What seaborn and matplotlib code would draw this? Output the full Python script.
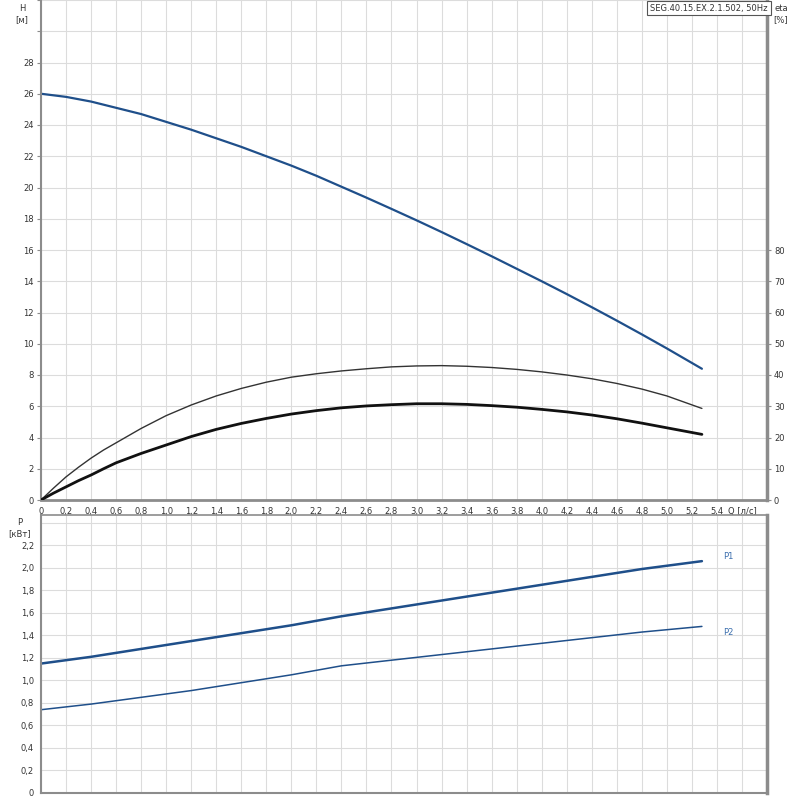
import numpy as np
import pandas as pd
import matplotlib
matplotlib.use("Agg")
import matplotlib.pyplot as plt
import seaborn as sns

# values
q = [0, 0.2, 0.4, 0.6, 0.8, 1.0, 1.2, 1.4, 1.6, 1.8, 2.0, 2.2, 2.4, 2.6,
     2.8, 3.0, 3.2, 3.4, 3.6, 3.8, 4.0, 4.2, 4.4, 4.6, 4.8, 5.0, 5.28]
head = [26.0, 25.8, 25.5, 25.1, 24.7, 24.2, 23.7, 23.15, 22.6, 22.0, 21.4, 20.75, 20.05, 19.35,
        18.63, 17.9, 17.15, 16.38, 15.6, 14.8, 14.0, 13.18, 12.34, 11.48, 10.6, 9.7, 8.4]

q_eta = [0, 0.1, 0.2, 0.3, 0.4, 0.5, 0.6, 0.8, 1.0, 1.2, 1.4, 1.6, 1.8, 2.0, 2.2, 2.4, 2.6,
         2.8, 3.0, 3.2, 3.4, 3.6, 3.8, 4.0, 4.2, 4.4, 4.6, 4.8, 5.0, 5.28]
eta_pump = [0, 3.8, 7.4, 10.5, 13.4, 16.0, 18.3, 22.9, 27.0, 30.4, 33.3, 35.7, 37.7, 39.3, 40.4, 41.3, 42.0,
            42.6, 42.9, 43.0, 42.8, 42.4, 41.8, 41.0, 40.0, 38.8, 37.3, 35.5, 33.3, 29.3]
eta_total = [0, 2.2, 4.2, 6.2, 8.0, 10.0, 11.9, 14.9, 17.6, 20.3, 22.6, 24.5, 26.1, 27.5, 28.6, 29.5, 30.1,
             30.5, 30.8, 30.8, 30.6, 30.2, 29.7, 29.0, 28.2, 27.2, 26.0, 24.6, 23.1, 21.0]

q_p = [0, 0.4, 0.8, 1.2, 1.6, 2.0, 2.4, 2.8, 3.2, 3.6, 4.0, 4.4, 4.8, 5.28]
p1 = [1.15, 1.21, 1.28, 1.35, 1.42, 1.49, 1.57, 1.64, 1.71, 1.78, 1.85, 1.92, 1.99, 2.06]
p2 = [0.74, 0.79, 0.85, 0.91, 0.98, 1.05, 1.13, 1.18, 1.23, 1.28, 1.33, 1.38, 1.43, 1.48]

x_ticks = [round(0.2 * i, 1) for i in range(29)]
x_labels = [("0" if t == 0 else f"{t:.1f}".replace(".", ",")) for t in x_ticks[:28]] + ["Q [л/с]"]
h_ticks = list(range(0, 33, 2))
h_labels = [str(t) if t <= 28 else "" for t in h_ticks]
eta_ticks = list(range(0, 81, 10))
p_ticks = [round(0.2 * i, 1) for i in range(13)]
p_labels = [("0" if t == 0 else f"{t:.1f}".replace(".", ",")) for t in p_ticks[:12]] + [""]

sns.set_style("white")
plt.rcParams["font.family"] = ["DejaVu Sans"]

blue = "#1f4f8a"
label_blue = "#3c6fae"
grid_c = "#dcdcdc"
spine_c = "#8c8c8c"
txt_c = "#333333"
fs = 6

fig = plt.figure(figsize=(8, 8), dpi=100)
ax = fig.add_axes([41 / 800, 1 - 500 / 800, 726 / 800, 500 / 800])
ax2 = ax.twinx()
axp = fig.add_axes([41 / 800, 1 - 793 / 800, 726 / 800, 278 / 800])

df_h = pd.DataFrame({"Q": q, "H": head})
df_eta = pd.DataFrame({"Q": q_eta, "pump": eta_pump, "total": eta_total})
df_p = pd.DataFrame({"Q": q_p, "P1": p1, "P2": p2})

sns.lineplot(data=df_h, x="Q", y="H", ax=ax, color=blue, lw=1.6)
sns.lineplot(data=df_eta, x="Q", y="pump", ax=ax2, color="#333333", lw=1.0)
sns.lineplot(data=df_eta, x="Q", y="total", ax=ax2, color="#111111", lw=2.0)
sns.lineplot(data=df_p, x="Q", y="P1", ax=axp, color=blue, lw=1.8)
sns.lineplot(data=df_p, x="Q", y="P2", ax=axp, color=blue, lw=1.1)

for a in (ax, axp):
    a.set_xlim(0, 5.8)
    a.set_xticks(x_ticks)
    a.grid(True, color=grid_c, lw=0.8)
    a.set_axisbelow(True)
    a.set_xlabel("")
    a.set_ylabel("")
    for s in a.spines.values():
        s.set_color(spine_c)
        s.set_linewidth(1.2)
    a.spines["right"].set_linewidth(2.5)
    a.spines["left"].set_linewidth(1.5)
    a.tick_params(colors=spine_c, labelcolor=txt_c, labelsize=fs, length=3, width=0.8, pad=2)

ax.set_ylim(0, 32)
ax.set_yticks(h_ticks)
ax.set_yticklabels(h_labels)
ax.set_xticklabels(x_labels)
ax.spines["top"].set_visible(False)
ax.spines["bottom"].set_linewidth(2)

ax2.set_ylim(0, 160)
ax2.set_yticks(eta_ticks)
ax2.set_ylabel("")
ax2.grid(False)
for s in ax2.spines.values():
    s.set_visible(False)
ax2.tick_params(axis="y", colors=spine_c, labelcolor=txt_c, labelsize=fs, length=3, width=0.8, pad=2)

axp.set_ylim(0, 2.47)
axp.set_yticks(p_ticks)
axp.set_yticklabels(p_labels)
axp.set_xticklabels([])
axp.tick_params(axis="x", length=0)
axp.spines["bottom"].set_linewidth(1.5)

fig.text(22 / 800, 1 - 4 / 800, "H\n[м]", ha="center", va="top", fontsize=fs, color=txt_c, linespacing=1.3)
fig.text(781 / 800, 1 - 4 / 800, "eta\n[%]", ha="center", va="top", fontsize=fs, color=txt_c, linespacing=1.3)
fig.text(20 / 800, 1 - 518 / 800, "P\n[кВт]", ha="center", va="top", fontsize=fs, color=txt_c, linespacing=1.3)
fig.text(709 / 800, 1 - 8 / 800, "SEG.40.15.EX.2.1.502, 50Hz", ha="center", va="center", fontsize=fs, color=txt_c,
         bbox=dict(boxstyle="square,pad=0.35", fc="white", ec="#555555", lw=0.8))
axp.text(5.45, 2.1, "P1", fontsize=fs, color=label_blue, va="center")
axp.text(5.45, 1.43, "P2", fontsize=fs, color=label_blue, va="center")

fig.savefig("out.png", dpi=100)
